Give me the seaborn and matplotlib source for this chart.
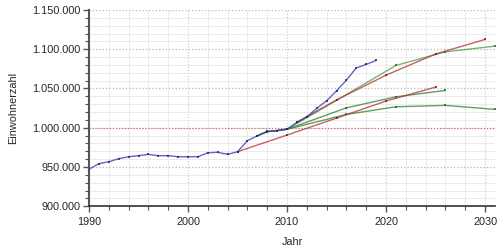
import matplotlib
matplotlib.use("Agg")
import matplotlib.pyplot as plt
import matplotlib.ticker as mticker
import seaborn as sns
import pandas as pd

# Historical population
hist_years = list(range(1990, 2020))
hist_values = [947100, 954200, 956700, 960600, 963100, 964400, 966100, 964400, 964400, 963100,
               963100, 963100, 968200, 968700, 966100, 969500, 983500, 989800, 995400, 996200,
               998300, 1006900, 1014000, 1024700, 1034400, 1047100, 1060700, 1076300, 1080700, 1085700]

# Projections (red)
red_low_years = [2005, 2010, 2015, 2020, 2025]
red_low_values = [969500, 990700, 1012300, 1034000, 1051800]
red_high_years = [2011, 2015, 2020, 2025, 2030]
red_high_values = [1007000, 1035500, 1067000, 1094000, 1112500]

# Projections (green)
green_high_years = [2007, 2008, 2010, 2021, 2026, 2031]
green_high_values = [989800, 995000, 998000, 1079400, 1096700, 1104000]
green_mid_years = [2007, 2008, 2010, 2016, 2021, 2026]
green_mid_values = [989800, 995000, 998000, 1025400, 1039400, 1047600]
green_low_years = [2007, 2008, 2010, 2016, 2021, 2026, 2031]
green_low_values = [989800, 995000, 998000, 1017000, 1026700, 1028500, 1023400]

sns.set_style("white")
plt.rcParams['font.family'] = ['Liberation Sans', 'DejaVu Sans']

fig = plt.figure(figsize=(5, 2.5), dpi=100)
ax = fig.add_axes([0.178, 0.175, 0.812, 0.785])

series = [
    (green_low_years, green_low_values, "#2e7d2e", "#1f5f1f"),
    (green_mid_years, green_mid_values, "#2e7d2e", "#1f5f1f"),
    (green_high_years, green_high_values, "#4c9a4c", "#1f5f1f"),
    (red_low_years, red_low_values, "#b03030", "#7a1010"),
    (red_high_years, red_high_values, "#b03030", "#7a1010"),
    (hist_years, hist_values, "#3333aa", "#1a1a80"),
]
for yrs, vals, col, mcol in series:
    df = pd.DataFrame({"Jahr": yrs, "Einwohnerzahl": vals})
    sns.lineplot(data=df, x="Jahr", y="Einwohnerzahl", ax=ax, color=col, lw=1.0, alpha=0.75,
                 marker="s", markersize=2, markeredgewidth=0, markerfacecolor=mcol)

ax.set_xlim(1990, 2031)
ax.set_ylim(900000, 1150000)
ax.xaxis.set_major_locator(mticker.MultipleLocator(10))
ax.xaxis.set_minor_locator(mticker.MultipleLocator(2))
ax.yaxis.set_major_locator(mticker.MultipleLocator(50000))
ax.yaxis.set_minor_locator(mticker.MultipleLocator(10000))
ax.yaxis.set_major_formatter(mticker.FuncFormatter(lambda v, p: f"{int(v):,}".replace(",", ".")))

ax.grid(which="minor", color="#e8e8e8", lw=0.6, ls="-")
ax.grid(which="major", axis="x", color="#c8c8c8", lw=0.8, ls=":")
ax.grid(which="major", axis="y", color="#b8b8b8", lw=0.9, ls=":")
ax.axhline(1000000, color="#e06060", lw=0.8, ls=":", zorder=1)
ax.set_axisbelow(True)

for s in ["top", "right"]:
    ax.spines[s].set_visible(False)
ax.spines["left"].set_color("#555555")
ax.spines["left"].set_linewidth(1.5)
ax.spines["bottom"].set_color("#333333")
ax.spines["bottom"].set_linewidth(1.2)

ax.tick_params(which="major", length=4, width=1, color="#555555", labelsize=7.8, pad=2, direction="out", left=True, bottom=True)
ax.tick_params(which="minor", length=3, width=0.8, color="#555555", direction="out", left=True, bottom=True)
ax.tick_params(axis="x", pad=4)

ax.set_xlabel("Jahr", fontsize=7.8, labelpad=7)
ax.set_ylabel("Einwohnerzahl", fontsize=7.8, labelpad=10)

fig.savefig("out.png", dpi=100)
